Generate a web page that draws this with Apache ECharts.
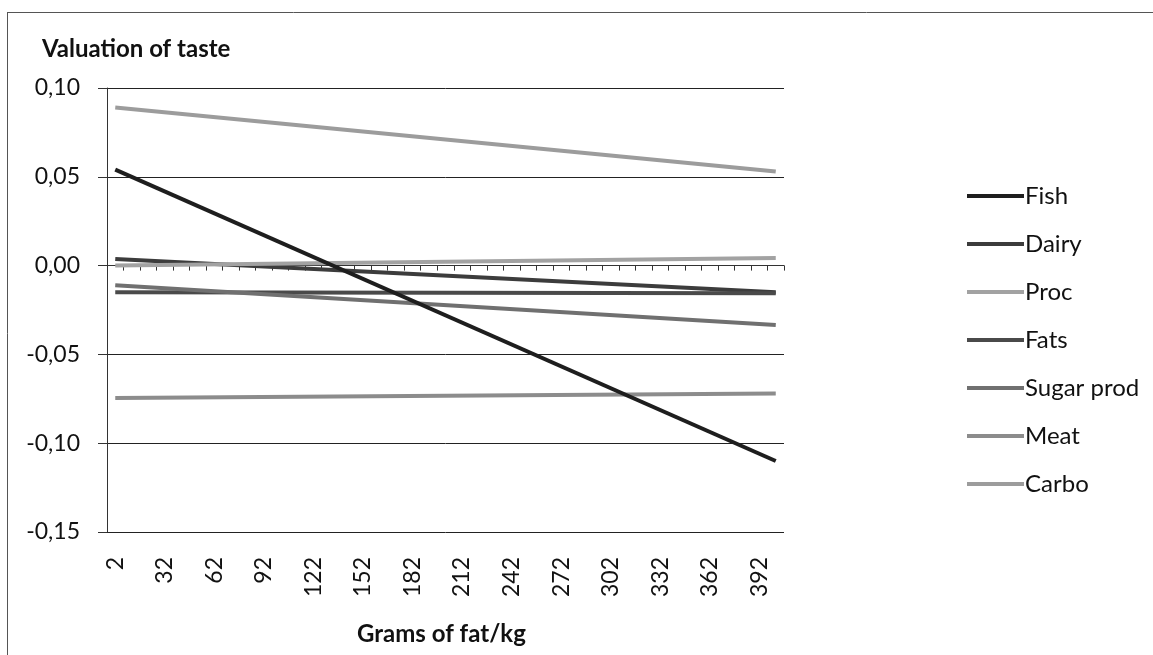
<!DOCTYPE html>
<html>
<head>
<meta charset="utf-8">
<script src="https://cdn.jsdelivr.net/npm/echarts@6/dist/echarts.min.js"></script>
<style>html,body{margin:0;padding:0;background:#fff;}#c{width:1153px;height:655px;}</style>
</head>
<body>
<div id="c"></div>
<script>
// categories: grams of fat per kg
var categories = [];
for (var g = 2; g <= 402; g += 10) categories.push(String(g));
var seriesNames = ['Fish', 'Dairy', 'Proc', 'Fats', 'Sugar prod', 'Meat', 'Carbo'];
// valuation of taste at the first (2 g/kg) and last (402 g/kg) category; lines are straight
var startValues = [0.054, 0.0037, 0.0000, -0.0150, -0.0110, -0.0745, 0.0890];
var endValues   = [-0.110, -0.0150, 0.0043, -0.0155, -0.0334, -0.0720, 0.0530];
var yTicks = [-0.15, -0.10, -0.05, 0.00, 0.05, 0.10];

var colors = ['#1e1e1e', '#3c3c3c', '#a2a2a2', '#4a4a4a', '#707070', '#8c8c8c', '#9c9c9c'];
var font = 'Lato, "Open Sans", sans-serif';

var series = seriesNames.map(function (name, i) {
  return {
    name: name,
    type: 'line',
    xAxisIndex: 0,
    data: [[categories[0], startValues[i]], [categories[categories.length - 1], endValues[i]]],
    connectNulls: true,
    symbol: 'none',
    lineStyle: { width: 4, color: colors[i] },
    itemStyle: { color: colors[i] },
    z: i === 0 ? 10 : 9
  };
});

var chart = echarts.init(document.getElementById('c'), null, { renderer: 'canvas' });
chart.setOption({
  animation: false,
  backgroundColor: '#fff',
  grid: { left: 107, right: 369, top: 88, bottom: 123, containLabel: false },
  legend: {
    orient: 'vertical',
    left: 962,
    top: 179,
    icon: 'rect',
    itemWidth: 57,
    itemHeight: 4,
    itemGap: 24,
    data: seriesNames,
    textStyle: { fontFamily: font, fontSize: 24, color: '#111', lineHeight: 24, padding: [0, 0, 0, -4] }
  },
  xAxis: [{
    type: 'category',
    data: categories,
    boundaryGap: true,
    position: 'bottom',
    axisLine: { show: true, onZero: true, lineStyle: { color: '#333', width: 1 } },
    axisTick: { show: true, interval: 0, length: 5, inside: false, lineStyle: { color: '#333' } },
    axisLabel: { show: false },
    splitLine: { show: false }
  }, {
    type: 'category',
    data: categories,
    boundaryGap: true,
    position: 'bottom',
    axisLine: { show: false, onZero: false },
    axisTick: { show: false },
    axisLabel: {
      show: true, interval: 2, rotate: 90, margin: 25,
      fontFamily: font, fontSize: 23, color: '#111'
    },
    splitLine: { show: false }
  }],
  yAxis: {
    type: 'value',
    min: -0.15,
    max: 0.10,
    interval: 0.05,
    axisLine: { show: true, lineStyle: { color: '#333', width: 1 } },
    axisTick: { show: true, length: 9, lineStyle: { color: '#333' } },
    axisLabel: {
      margin: 27, fontFamily: font, fontSize: 23, color: '#111',
      formatter: function (v) { return (Math.round(v * 100) / 100).toFixed(2).replace('.', ','); }
    },
    splitLine: { show: true, lineStyle: { color: '#222', width: 1 } }
  },
  series: series,
  graphic: [
    { type: 'line', shape: { x1: 7, y1: 12.5, x2: 1153, y2: 12.5 }, style: { stroke: '#555', lineWidth: 1 }, silent: true },
    { type: 'line', shape: { x1: 7.5, y1: 12, x2: 7.5, y2: 655 }, style: { stroke: '#555', lineWidth: 1 }, silent: true },
    { type: 'text', left: 42, top: 37, style: { text: 'Valuation of taste', font: 'bold 24px ' + font, fill: '#111' } },
    { type: 'text', left: 357, top: 622, style: { text: 'Grams of fat/kg', font: 'bold 24px ' + font, fill: '#111' } }
  ]
});
</script>
</body>
</html>
